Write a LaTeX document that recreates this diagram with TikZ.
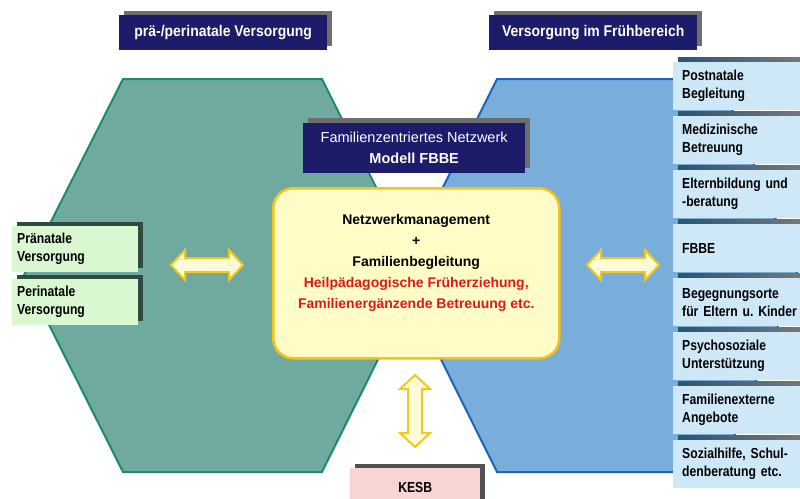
\documentclass[tikz,border=0pt]{standalone}
\usepackage{fontspec}
\setmainfont{Liberation Sans}
\newfontfamily\boxfont{Liberation Sans}[FakeStretch=0.84]
\newfontfamily\titlefont{Liberation Sans}[FakeStretch=0.9]
\newcommand{\tightspaces}{\frenchspacing\spaceskip=3.5pt plus 0.5pt minus 0.5pt\xspaceskip=3.5pt\relax}
\usetikzlibrary{shadows}
\definecolor{hexgreen}{HTML}{6FA9A0}
\definecolor{hexgreenline}{HTML}{1A8C6A}
\definecolor{hexblue}{HTML}{79AEDB}
\definecolor{hexblueline}{HTML}{1A64C0}
\definecolor{navy}{HTML}{1C1C6A}
\definecolor{navyshadow}{HTML}{6E6E6E}
\definecolor{centerfill}{HTML}{FFFCC8}
\definecolor{centerline}{HTML}{F2C418}
\definecolor{arrowfill}{HTML}{FFFBD6}
\definecolor{arrowline}{HTML}{F5C818}
\definecolor{greenboxfill}{HTML}{D9F7D0}
\definecolor{greenshadow}{HTML}{2F4A40}
\definecolor{blueboxfill}{HTML}{CFE8F8}
\definecolor{blueshadowA}{HTML}{2E5570}
\definecolor{blueshadowB}{HTML}{7C7C7C}
\definecolor{pinkfill}{HTML}{F8D4D4}
\definecolor{pinkshadow}{HTML}{505050}
\definecolor{redtext}{HTML}{E01818}
\begin{document}
\begin{tikzpicture}[x=1pt,y=-1pt,
  lefthex/.style={fill=hexgreen, draw=hexgreenline, line width=2pt, line join=miter},
  righthex/.style={fill=hexblue, draw=hexblueline, line width=2pt, line join=miter},
  navybox/.style={anchor=north west, fill=navy, text=white, inner sep=0pt,
    minimum width=208pt, minimum height=35pt, align=center,
    font=\titlefont\bfseries\fontsize{15.5}{17}\selectfont,
    general shadow={shadow xshift=5pt, shadow yshift=4pt, fill=navyshadow}},
  netzbox/.style={anchor=north west, fill=navy, text=white, inner sep=0pt,
    minimum width=222pt, minimum height=50pt, align=center,
    font=\fontsize{14.5}{21}\selectfont,
    general shadow={shadow xshift=5pt, shadow yshift=5pt, fill=navyshadow}},
  centerbox/.style={anchor=north west, fill=centerfill, draw=centerline, line width=2.5pt,
    rounded corners=20pt, minimum width=286pt, minimum height=170pt, inner sep=0pt},
  centertext/.style={align=center, inner sep=0pt, font=\bfseries\fontsize{14}{21}\selectfont},
  arrowshape/.style={fill=arrowfill, draw=arrowline, line width=2pt, line join=miter},
  dblarr/.pic={\filldraw[arrowshape] (-36,0) -- (-22,-15) -- (-22,-7) -- (22,-7) -- (22,-15)
     -- (36,0) -- (22,15) -- (22,7) -- (-22,7) -- (-22,15) -- cycle;},
  greenbox/.style={anchor=north west, fill=greenboxfill, inner xsep=5pt, inner ysep=0pt,
    minimum width=126pt, minimum height=46pt, text width=116pt, align=left,
    font=\boxfont\bfseries\fontsize{14.5}{18}\selectfont\tightspaces,
    general shadow={shadow xshift=5pt, shadow yshift=4pt, fill=greenshadow}},
  bluebox/.style={anchor=north west, fill=blueboxfill, inner xsep=9pt, inner ysep=0pt,
    minimum width=127pt, minimum height=48pt, text width=118pt, align=left,
    font=\boxfont\bfseries\fontsize{14.5}{18}\selectfont\tightspaces,
    general shadow={shadow xshift=5pt, shadow yshift=5pt, left color=blueshadowA, right color=blueshadowB}},
  pinkbox/.style={anchor=north west, fill=pinkfill, inner sep=0pt,
    minimum width=130pt, minimum height=38pt, align=center,
    font=\boxfont\bfseries\fontsize{14.5}{18}\selectfont,
    general shadow={shadow xshift=5pt, shadow yshift=4pt, fill=pinkshadow}}
]
\useasboundingbox (0,0) rectangle (800,498);
\fill[white] (0,0) rectangle (800,498);

% hexagons
\filldraw[lefthex] (123,79) -- (322,79) -- (420,275) -- (322,472) -- (123,472) -- (24,275) -- cycle;
\filldraw[righthex] (497,79) -- (720,79) -- (798,275) -- (720,472) -- (497,472) -- (399,275) -- cycle;

% titles
\node[navybox] (tleft) at (119,15) {prä-/perinatale Versorgung};
\node[navybox] (tright) at (489,15) {Versorgung im Frühbereich};
\node[netzbox] (netz) at (303,123) {Familienzentriertes Netzwerk\\\textbf{Modell FBBE}};

% center
\node[centerbox] (cbox) at (272,187) {};
\node[centertext] (ctext) at ([yshift=10pt]cbox.center) {Netzwerkmanagement\\+\\Familienbegleitung\\
  \textcolor{redtext}{Heilpädagogische Früherziehung,}\\
  \textcolor{redtext}{Familienergänzende Betreuung etc.}};

% arrows
\pic (arrL) at (207,265) {dblarr};
\pic (arrR) at (623,265) {dblarr};
\pic[rotate=90] (arrV) at (415,411) {dblarr};

% left boxes
\node[greenbox] (pra) at (12,226) {Pränatale\\Versorgung};
\node[greenbox] (peri) at (12,279) {Perinatale\\Versorgung};

% right boxes
\node[bluebox] (r1) at (673,62) {Postnatale\\Begleitung};
\node[bluebox] (r2) at (673,116) {Medizinische\\Betreuung};
\node[bluebox] (r3) at (673,170) {Elternbildung und\\-beratung};
\node[bluebox] (r4) at (673,224) {FBBE};
\node[bluebox] (r5) at (673,278) {Begegnungsorte\\für Eltern u. Kinder};
\node[bluebox] (r6) at (673,332) {Psychosoziale\\Unterstützung};
\node[bluebox] (r7) at (673,386) {Familienexterne\\Angebote};
\node[bluebox] (r8) at (673,440) {Sozialhilfe, Schul-\\denberatung etc.};

% KESB
\node[pinkbox] (kesb) at (350,468) {KESB};
\end{tikzpicture}
\end{document}
